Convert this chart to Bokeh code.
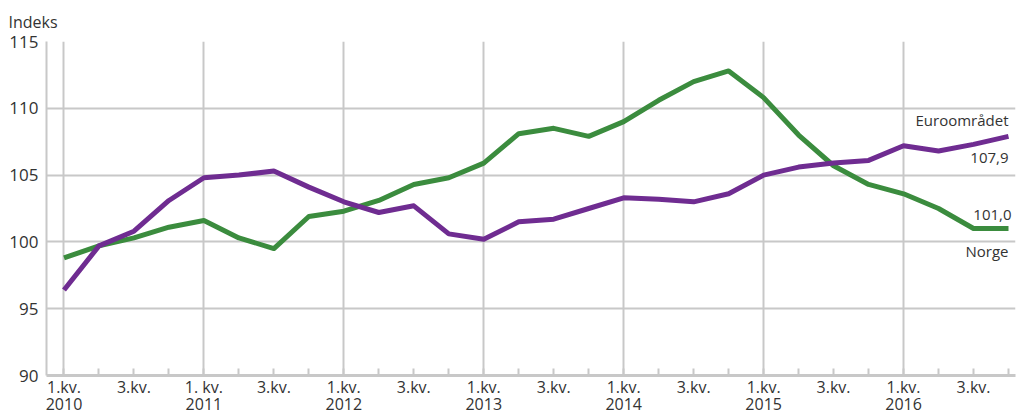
from bokeh.plotting import figure
from bokeh.models import FixedTicker, Label, ColumnDataSource, Range1d
from bokeh.embed import file_html
from bokeh.resources import INLINE

quarters = list(range(28))
years = [2010, 2011, 2012, 2013, 2014, 2015, 2016]
euro = [96.4, 99.7, 100.8, 103.1, 104.8, 105.0, 105.3, 104.1, 103.0, 102.2, 102.7, 100.6,
        100.2, 101.5, 101.7, 102.5, 103.3, 103.2, 103.0, 103.6, 105.0, 105.6, 105.9, 106.1,
        107.2, 106.8, 107.3, 107.9]
norge = [98.8, 99.7, 100.3, 101.1, 101.6, 100.3, 99.5, 101.9, 102.3, 103.1, 104.3, 104.8,
         105.9, 108.1, 108.5, 107.9, 109.0, 110.6, 112.0, 112.8, 110.8, 108.0, 105.7, 104.3,
         103.6, 102.5, 101.0, 101.0]
y_ticks = [90, 95, 100, 105, 110, 115]

GREEN = "#3b8c3e"
PURPLE = "#6f2c91"
GRID = "#c8c8c8"
TEXT = "#333333"
FONT = "Open Sans"

p = figure(frame_width=969, frame_height=334, output_backend="svg", toolbar_location=None,
           x_range=Range1d(-0.5, 27.2), y_range=Range1d(90, 115),
           min_border_left=46, min_border_right=18, min_border_top=41, min_border_bottom=0,
           title="Indeks")
p.title.text_font = FONT
p.title.text_font_size = "16px"
p.title.text_font_style = "normal"
p.title.text_color = TEXT
p.title.align = "left"
p.title.offset = -38
p.title.standoff = 17
p.outline_line_color = None
p.background_fill_color = "white"

# x axis
labels = {}
for q in quarters:
    if q % 4 == 0:
        sep = "1.kv." if q != 4 else "1. kv."
        labels[q] = f"{sep}\n{years[q // 4]}"
    elif q % 4 == 2:
        labels[q] = "3.kv."
    else:
        labels[q] = ""
p.xaxis.ticker = FixedTicker(ticks=quarters)
p.xaxis.major_label_overrides = labels
p.xaxis.minor_tick_line_color = None
p.xaxis.major_tick_in = 7
p.xaxis.major_tick_out = 0
p.xaxis.major_tick_line_color = GRID
p.xaxis.major_tick_line_width = 2
p.xaxis.axis_line_color = GRID
p.xaxis.axis_line_width = 3
p.xaxis.major_label_text_font = FONT
p.xaxis.major_label_text_font_size = "16px"
p.xaxis.major_label_text_color = TEXT
p.xaxis.major_label_standoff = 0
p.xaxis.major_label_text_line_height = 0.8

p.xgrid.ticker = FixedTicker(ticks=[q for q in quarters if q % 4 == 0])
p.xgrid.grid_line_color = GRID
p.xgrid.grid_line_width = 2

# y axis
p.yaxis.ticker = FixedTicker(ticks=y_ticks)
p.yaxis.minor_tick_line_color = None
p.yaxis.major_tick_in = 0
p.yaxis.major_tick_out = 0
p.yaxis.axis_line_color = GRID
p.yaxis.axis_line_width = 2
p.yaxis.major_label_text_font = FONT
p.yaxis.major_label_text_font_size = "17px"
p.yaxis.major_label_text_color = TEXT
p.yaxis.major_label_standoff = 8
p.ygrid.grid_line_color = GRID
p.ygrid.grid_line_width = 2

src = ColumnDataSource(dict(q=quarters, euro=euro, norge=norge))
p.line("q", "norge", source=src, line_color=GREEN, line_width=5, line_join="round")
p.line("q", "euro", source=src, line_color=PURPLE, line_width=5, line_join="round")

last = quarters[-1]
common = dict(text_font=FONT, text_font_size="15px", text_color=TEXT, text_align="right")
p.add_layout(Label(x=last, y=euro[-1], text="Euroområdet", y_offset=6,
                   text_baseline="bottom", **common))
p.add_layout(Label(x=last, y=euro[-1], text=f"{euro[-1]:.1f}".replace(".", ","), y_offset=-17,
                   text_baseline="top", **common))
p.add_layout(Label(x=last, y=norge[-1], text=f"{norge[-1]:.1f}".replace(".", ","), x_offset=3,
                   y_offset=9, text_baseline="bottom", **common))
p.add_layout(Label(x=last, y=norge[-1], text="Norge", y_offset=-12,
                   text_baseline="top", **common))

open("out.html", "w").write(file_html(p, INLINE))
